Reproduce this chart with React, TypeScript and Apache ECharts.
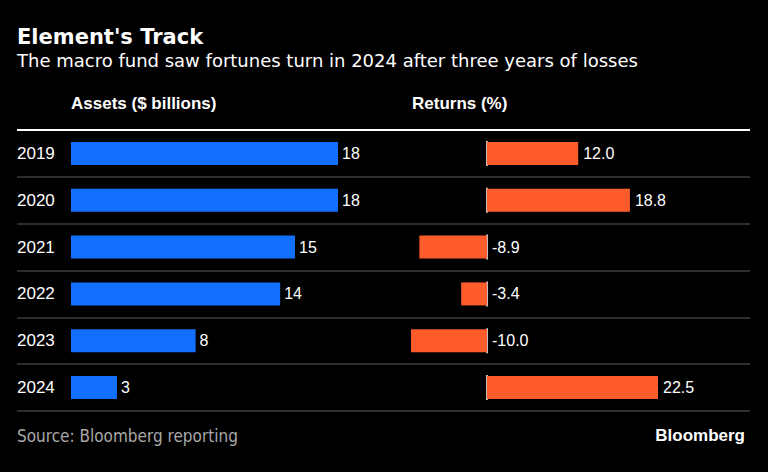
import React, { useEffect, useRef } from "react";
import * as echarts from "echarts";

const years = ["2019", "2020", "2021", "2022", "2023", "2024"];
const assets = [18, 18, 15.1, 14.1, 8.4, 3.1];
const returnsPct = [12.0, 18.8, -8.9, -3.4, -10.0, 22.5];

const FONT = "'Liberation Sans', Arial, sans-serif";
const DJ = "'DejaVu Sans', sans-serif";
const DJC = "'DejaVu Sans Condensed', 'DejaVu Sans', sans-serif";
const BLUE = "#1170ff";
const ORANGE = "#ff5c2b";

export default function App() {
  const ref = useRef<HTMLDivElement>(null);
  useEffect(() => {
    if (!ref.current) return;
    const chart = echarts.init(ref.current, null, { renderer: "svg" });
    const top = 130;
    const bottom = 61;
    chart.setOption({
      animation: false,
      backgroundColor: "#000",
      title: [
        { text: "Element's Track", left: 17, top: 26, padding: 0, textStyle: { color: "#fff", fontSize: 21, fontWeight: "bold", fontFamily: DJ } },
        { text: "The macro fund saw fortunes turn in 2024 after three years of losses", left: 17, top: 51, padding: 0, textStyle: { color: "#fff", fontSize: 18, fontWeight: "normal", fontFamily: DJ } },
        { text: "Assets ($ billions)", left: 71, top: 95, padding: 0, textStyle: { color: "#fff", fontSize: 17, fontWeight: "bold", fontFamily: FONT } },
        { text: "Returns (%)", left: 412, top: 95, padding: 0, textStyle: { color: "#fff", fontSize: 17, fontWeight: "bold", fontFamily: FONT } },
        { text: "Source: Bloomberg reporting", left: 17, top: 427, padding: 0, textStyle: { color: "#a8a8a8", fontSize: 17, fontWeight: "normal", fontFamily: DJC } },
        { text: "Bloomberg", right: 23, top: 427, padding: 0, textStyle: { color: "#fff", fontSize: 17, fontWeight: "bold", fontFamily: FONT } },
      ],
      grid: [
        { left: 71, right: 430, top, bottom },
        { left: 411, right: 22.6, top, bottom },
        { left: 17, right: 18, top, bottom },
      ],
      xAxis: [
        { gridIndex: 0, type: "value", min: 0, max: 18, show: false },
        { gridIndex: 1, type: "value", min: -10, max: 34, show: false },
        { gridIndex: 2, type: "value", min: 0, max: 1, show: false },
      ],
      yAxis: [
        {
          gridIndex: 0, type: "category", data: years, inverse: true,
          axisLine: { show: false }, axisTick: { show: false }, splitLine: { show: false },
          axisLabel: { show: true, align: "left", margin: 54, color: "#fff", fontSize: 17, fontFamily: FONT },
        },
        { gridIndex: 1, type: "category", data: years, inverse: true, show: false },
        {
          gridIndex: 2, type: "category", data: years, inverse: true,
          axisLine: { show: false }, axisTick: { show: false }, axisLabel: { show: false },
          splitLine: { show: true, lineStyle: { color: "#3c3c3c", width: 1.5 } },
        },
      ],
      series: [
        {
          type: "bar", xAxisIndex: 0, yAxisIndex: 0, data: assets, barWidth: 23,
          itemStyle: { color: BLUE },
          label: {
            show: true, position: "right", distance: 4, color: "#fff", fontSize: 16, fontFamily: FONT,
            formatter: (p: any) => String(Math.round(p.value)),
          },
        },
        {
          type: "bar", xAxisIndex: 1, yAxisIndex: 1, data: returnsPct, barWidth: 23,
          itemStyle: { color: ORANGE },
        },
        {
          type: "custom", xAxisIndex: 1, yAxisIndex: 1,
          data: returnsPct.map((v, i) => [v, i]),
          renderItem: (params: any, api: any) => {
            const v = api.value(0);
            const idx = api.value(1);
            const zero = api.coord([0, idx]);
            const end = api.coord([Math.max(v, 0), idx]);
            return {
              type: "group",
              children: [
                { type: "line", shape: { x1: zero[0], y1: zero[1] - 12.5, x2: zero[0], y2: zero[1] + 12.5 }, style: { stroke: "#fff", lineWidth: 1.5 } },
                { type: "text", x: end[0] + 5, y: end[1], style: { text: v.toFixed(1), fill: "#fff", font: `16px ${FONT}`, verticalAlign: "middle", align: "left" } },
              ],
            };
          },
        },
      ],
      graphic: [
        { type: "line", shape: { x1: 17, y1: 130, x2: 750, y2: 130 }, style: { stroke: "#fff", lineWidth: 2 }, z: 100 },
      ],
    });
    return () => chart.dispose();
  }, []);
  return <div ref={ref} style={{ width: 768, height: 472, position: "absolute", left: 0, top: 0 }} />;
}
